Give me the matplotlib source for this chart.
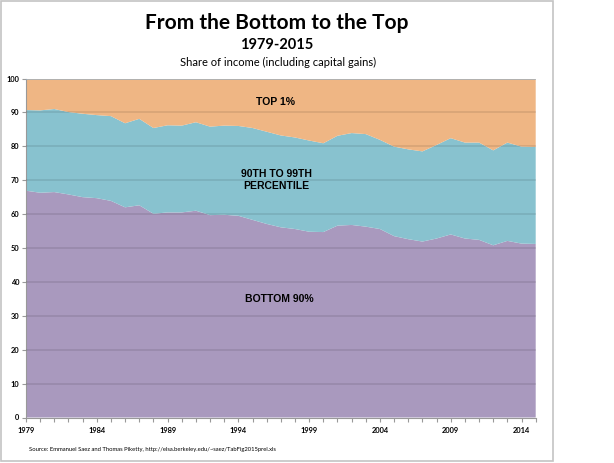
import matplotlib
matplotlib.use("Agg")
import matplotlib.pyplot as plt
from matplotlib.patches import Rectangle

years = list(range(1979, 2016))
bottom90 = [66.9, 66.3, 66.5, 65.8, 65.0, 64.7, 63.9, 62.0, 62.6, 60.1,
            60.5, 60.5, 61.0, 59.7, 59.8, 59.5, 58.3, 57.1, 56.1, 55.6,
            54.8, 54.7, 56.6, 56.8, 56.3, 55.6, 53.5, 52.6, 51.9, 52.8,
            54.0, 52.8, 52.4, 50.8, 52.1, 51.3, 51.2]
p90_99 = [23.8, 24.3, 24.5, 24.3, 24.6, 24.5, 25.0, 24.8, 25.5, 25.3,
          25.7, 25.6, 26.1, 26.1, 26.3, 26.5, 27.1, 27.2, 27.1, 27.0,
          26.9, 26.2, 26.5, 27.1, 27.3, 26.3, 26.4, 26.5, 26.6, 27.6,
          28.4, 28.3, 28.7, 28.0, 29.0, 28.6, 28.6]
top1 = [9.3, 9.4, 9.0, 9.9, 10.4, 10.8, 11.1, 13.2, 11.9, 14.6,
        13.8, 13.9, 12.9, 14.2, 13.9, 14.0, 14.6, 15.7, 16.8, 17.4,
        18.3, 19.1, 16.9, 16.1, 16.4, 18.1, 20.1, 20.9, 21.5, 19.6,
        17.6, 18.9, 18.9, 21.2, 18.9, 20.1, 20.2]
series_labels = ["BOTTOM 90%", "90TH TO 99TH\nPERCENTILE", "TOP 1%"]
colors = ["#a999be", "#88c2cf", "#efb684"]
yticks = list(range(0, 101, 10))
xtick_years = list(range(1979, 2015, 5))

W, H = 614, 463
fig = plt.figure(figsize=(W / 100, H / 100), dpi=100)
fig.patch.set_facecolor("white")

# outer frame
fig.patches.append(Rectangle((1 / W, 1 - 461 / H), 552 / W, 460 / H,
                             transform=fig.transFigure, fill=False,
                             edgecolor="#c4c4c4", linewidth=1.2))

ax = fig.add_axes([26 / W, 1 - 417.5 / H, (535.7 - 26) / W, (417.5 - 78.5) / H])
ax.stackplot(years, bottom90, p90_99, top1, colors=colors, linewidth=0)
ax.set_xlim(1979, 2015)
ax.set_ylim(0, 100)

for v in yticks[1:]:
    ax.axhline(v, color="#000000", alpha=0.10, linewidth=1.2, zorder=3)
ax.axhline(100, color="#9fb8cc", alpha=0.8, linewidth=1.2, zorder=3)

ax.set_yticks(yticks)
ax.set_yticklabels([str(v) for v in yticks], fontsize=5.4, fontweight="bold",
                   family="Lato")
ax.set_xticks(years, minor=True)
ax.set_xticks(xtick_years)
ax.set_xticklabels([str(y) for y in xtick_years], fontsize=5.4,
                   fontweight="bold", family="Lato")
ax.tick_params(axis="y", length=3, width=0.8, color="#999999", pad=2)
ax.tick_params(axis="x", which="both", length=3, width=0.8, color="#999999",
               pad=3.5, direction="out")
for s in ["top", "right"]:
    ax.spines[s].set_visible(False)
ax.spines["left"].set_color("#999999")
ax.spines["bottom"].set_color("#999999")
ax.spines["left"].set_linewidth(0.8)
ax.spines["bottom"].set_linewidth(0.8)

# series labels
lbl = dict(ha="center", va="center", fontsize=7.5, fontweight="bold",
           family="Liberation Sans", zorder=5)
ax.text(1996.6, 93.1, series_labels[2], **lbl)
ax.text(1996.7, 70.1, series_labels[1], linespacing=1.25, **lbl)
ax.text(1996.9, 35.0, series_labels[0], **lbl)

fig.text(277 / W, 1 - 23 / H, "From the Bottom to the Top", ha="center",
         va="center", fontsize=15, fontweight="bold", family="Lato")
fig.text(277 / W, 1 - 45 / H, "1979-2015", ha="center", va="center",
         fontsize=10.5, fontweight="bold", family="Lato")
fig.text(278 / W, 1 - 62 / H, "Share of income (including capital gains)",
         ha="center", va="center", fontsize=8, family="Lato")
fig.text(29 / W, 1 - 449 / H,
         "Source: Emmanuel Saez and Thomas Piketty, http://elsa.berkeley.edu/~saez/TabFig2015prel.xls",
         ha="left", va="center", fontsize=4.2, family="Lato")

fig.savefig("out.png", dpi=100, facecolor="white")
